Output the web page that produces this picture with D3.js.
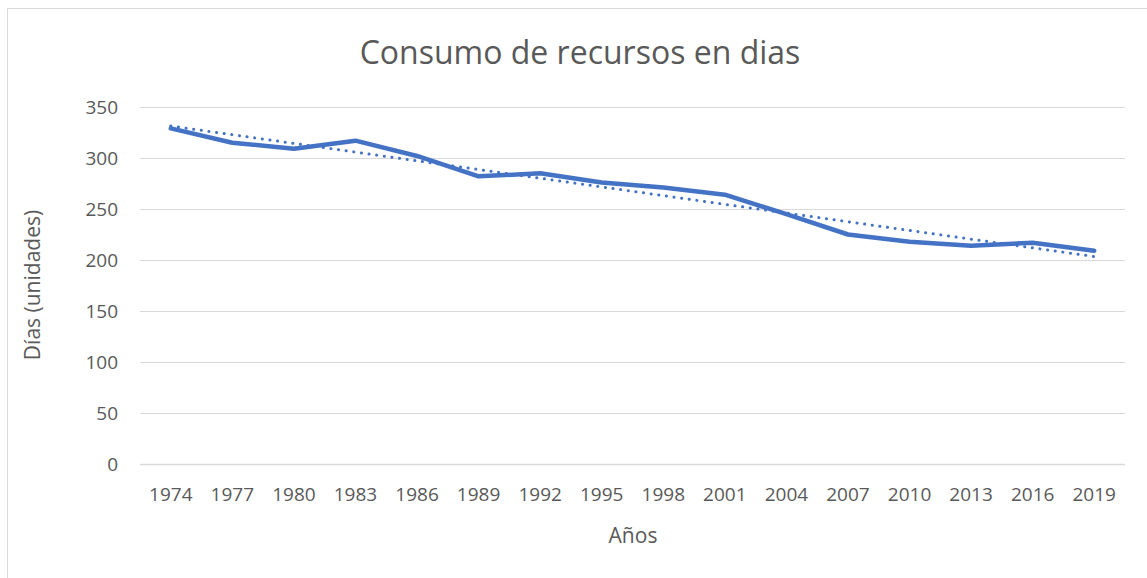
<!DOCTYPE html>
<html>
<head>
<meta charset="utf-8">
<script src="https://cdn.jsdelivr.net/npm/d3@7"></script>
<style>
  body { margin: 0; background: #fff; }
  text { font-family: "Open Sans", sans-serif; fill: #595959; }
</style>
</head>
<body>
<svg id="chart"></svg>
<script>
const W = 1147, H = 578
const margins = { top: 107, bottom: 114, left: 140, right: 22 }

// data
const years = ["1974","1977","1980","1983","1986","1989","1992","1995","1998","2001","2004","2007","2010","2013","2016","2019"]
const dias = [329, 315, 309, 317, 302, 282, 285, 276, 271, 264, 245, 225, 218, 214, 217, 209]
const yTicks = [0, 50, 100, 150, 200, 250, 300, 350]

const blue = "#4472C4"

var svg = d3.select("#chart").attr("width", W).attr("height", H)

// chart area border (Excel style)
svg.append("rect")
    .attr("x", 7.5).attr("y", 8.5)
    .attr("width", 1300).attr("height", 800)
    .attr("fill", "#fff")
    .attr("stroke", "#d9d9d9")
    .attr("stroke-width", 1)

var x = d3.scaleBand()
    .domain(years)
    .range([margins.left, W - margins.right])

var y = d3.scaleLinear()
    .domain([0, 350])
    .range([H - margins.bottom, margins.top])

// gridlines
svg.append("g")
    .selectAll("line")
    .data(yTicks)
    .enter().append("line")
    .attr("x1", margins.left)
    .attr("x2", W - margins.right)
    .attr("y1", d => Math.round(y(d)) + 0.5)
    .attr("y2", d => Math.round(y(d)) + 0.5)
    .attr("stroke", "#d9d9d9")
    .attr("stroke-width", d => d == 0 ? 1.6 : 1.2)

// y tick labels
svg.append("g")
    .selectAll("text")
    .data(yTicks)
    .enter().append("text")
    .attr("x", 118)
    .attr("y", d => y(d))
    .attr("dy", "0.35em")
    .attr("text-anchor", "end")
    .attr("font-size", "19px")
    .text(d => d)

// x tick labels
svg.append("g")
    .selectAll("text")
    .data(years)
    .enter().append("text")
    .attr("x", d => x(d) + x.bandwidth() / 2)
    .attr("y", 501)
    .attr("text-anchor", "middle")
    .attr("font-size", "19px")
    .text(d => d)

var px = d => x(d) + x.bandwidth() / 2

// linear trend line (least squares over the series, like Excel's trendline)
var idx = dias.map((d, i) => i + 1)
var mx = d3.mean(idx), my = d3.mean(dias)
var slope = d3.sum(idx, (d, i) => (d - mx) * (dias[i] - my)) / d3.sum(idx, d => (d - mx) * (d - mx))
var icpt = my - slope * mx

svg.append("line")
    .attr("x1", px(years[0]))
    .attr("y1", y(icpt + slope * 1))
    .attr("x2", px(years[years.length - 1]))
    .attr("y2", y(icpt + slope * years.length))
    .attr("stroke", blue)
    .attr("stroke-width", 3)
    .attr("stroke-linecap", "round")
    .attr("stroke-dasharray", "0.1 7.6")

// main line
var line = d3.line()
    .x((d, i) => px(years[i]))
    .y(d => y(d))

svg.append("path")
    .datum(dias)
    .attr("d", line)
    .attr("fill", "none")
    .attr("stroke", blue)
    .attr("stroke-width", 4.5)
    .attr("stroke-linecap", "round")
    .attr("stroke-linejoin", "round")

// title
svg.append("text")
    .attr("x", 580)
    .attr("y", 64)
    .attr("text-anchor", "middle")
    .attr("font-size", "32px")
    .text("Consumo de recursos en dias")

// axis titles
svg.append("text")
    .attr("x", 633)
    .attr("y", 543)
    .attr("text-anchor", "middle")
    .attr("font-size", "21px")
    .text("Años")

svg.append("text")
    .attr("transform", "translate(40,285) rotate(-90)")
    .attr("text-anchor", "middle")
    .attr("font-size", "21px")
    .text("Días (unidades)")
</script>
</body>
</html>
